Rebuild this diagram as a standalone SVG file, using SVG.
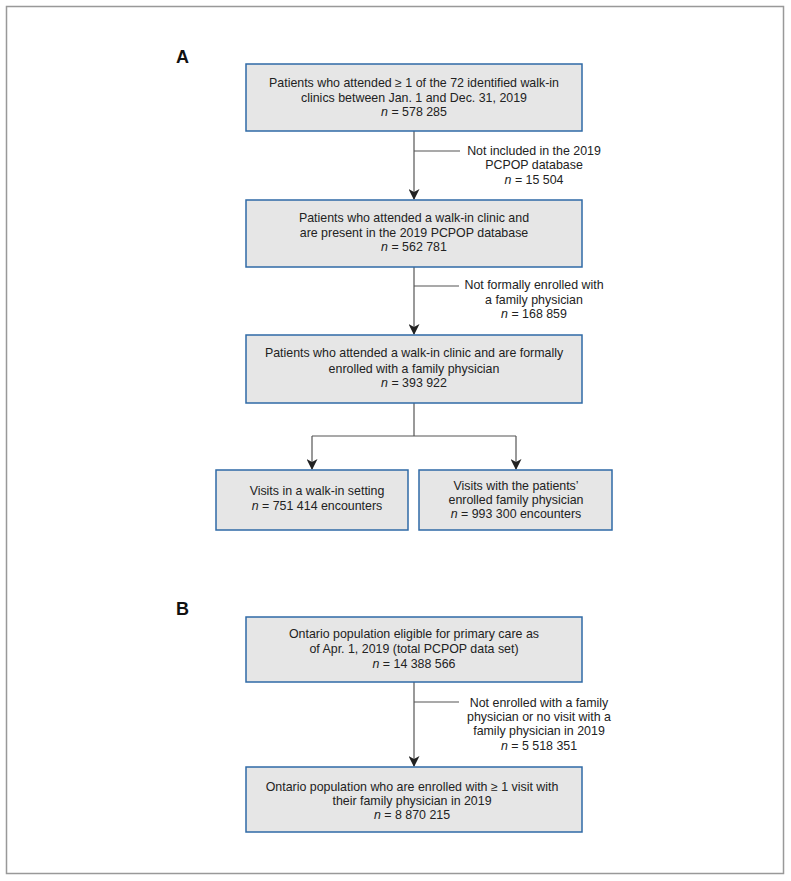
<svg xmlns="http://www.w3.org/2000/svg" width="791" height="881" viewBox="0 0 791 881">
<defs>
<style>
.box{fill:#e6e6e6;stroke:#2f6aa6;stroke-width:1.5}
.t{font-family:"Liberation Sans",Arial,sans-serif;font-size:12.4px;fill:#222;text-anchor:middle}
.lbl{font-family:"Liberation Sans",Arial,sans-serif;font-size:18px;font-weight:bold;fill:#111}
.ln{stroke:#555;stroke-width:1.2;fill:none}
.i{font-style:italic}
</style>
<marker id="ah" markerWidth="11" markerHeight="11" refX="10" refY="5.5" orient="auto" markerUnits="userSpaceOnUse">
<path d="M0,0 L11,5.5 L0,11 L3,5.5 Z" fill="#222"/>
</marker>
</defs>
<rect width="791" height="881" fill="#fff"/>
<rect x="6.5" y="6.5" width="777" height="867" fill="none" stroke="#999" stroke-width="1.5"/>
<text class="lbl" x="176" y="63">A</text>
<text class="lbl" x="176" y="615">B</text>
<g id="connectors">
<line class="ln" x1="414" y1="131" x2="414" y2="199" marker-end="url(#ah)"/>
<line class="ln" x1="414" y1="151" x2="460" y2="151"/>
<line class="ln" x1="414" y1="267" x2="414" y2="334" marker-end="url(#ah)"/>
<line class="ln" x1="414" y1="286" x2="459" y2="286"/>
<polyline class="ln" points="414,403 414,436"/>
<polyline class="ln" points="312,436 516,436"/>
<line class="ln" x1="312" y1="436" x2="312" y2="469" marker-end="url(#ah)"/>
<line class="ln" x1="516" y1="436" x2="516" y2="469" marker-end="url(#ah)"/>
<line class="ln" x1="414" y1="682" x2="414" y2="766" marker-end="url(#ah)"/>
<line class="ln" x1="414" y1="702" x2="459" y2="702"/>
</g>
<g id="lbl1">
<text class="t" x="534" y="155">Not included in the 2019</text>
<text class="t" x="534" y="169">PCPOP database</text>
<text class="t" x="534" y="184"><tspan class="i">n</tspan> = 15 504</text>
</g>
<g id="lbl2">
<text class="t" x="534" y="289">Not formally enrolled with</text>
<text class="t" x="534" y="304">a family physician</text>
<text class="t" x="534" y="318"><tspan class="i">n</tspan> = 168 859</text>
</g>
<g id="lbl3">
<text class="t" x="539" y="707">Not enrolled with a family</text>
<text class="t" x="539" y="721">physician or no visit with a</text>
<text class="t" x="539" y="735">family physician in 2019</text>
<text class="t" x="539" y="750"><tspan class="i">n</tspan> = 5 518 351</text>
</g>
<g id="n1">
<rect class="box" x="246" y="64" width="336" height="67"/>
<text class="t" x="414" y="87">Patients who attended ≥ 1 of the 72 identified walk-in</text>
<text class="t" x="414" y="102">clinics between Jan. 1 and Dec. 31, 2019</text>
<text class="t" x="414" y="116"><tspan class="i">n</tspan> = 578 285</text>
</g>
<g id="n2">
<rect class="box" x="246" y="200" width="336" height="67"/>
<text class="t" x="414" y="222">Patients who attended a walk-in clinic and</text>
<text class="t" x="414" y="237">are present in the 2019 PCPOP database</text>
<text class="t" x="414" y="251"><tspan class="i">n</tspan> = 562 781</text>
</g>
<g id="n3">
<rect class="box" x="246" y="335" width="336" height="68"/>
<text class="t" x="414" y="357">Patients who attended a walk-in clinic and are formally</text>
<text class="t" x="414" y="373">enrolled with a family physician</text>
<text class="t" x="414" y="387"><tspan class="i">n</tspan> = 393 922</text>
</g>
<g id="n4">
<rect class="box" x="216" y="470" width="192" height="60"/>
<text class="t" x="317" y="495">Visits in a walk-in setting</text>
<text class="t" x="317" y="510"><tspan class="i">n</tspan> = 751 414 encounters</text>
</g>
<g id="n5">
<rect class="box" x="419" y="470" width="193" height="60"/>
<text class="t" x="516" y="490">Visits with the patients’</text>
<text class="t" x="516" y="504">enrolled family physician</text>
<text class="t" x="516" y="518"><tspan class="i">n</tspan> = 993 300 encounters</text>
</g>
<g id="n6">
<rect class="box" x="246" y="617" width="336" height="65"/>
<text class="t" x="414" y="638">Ontario population eligible for primary care as</text>
<text class="t" x="414" y="653">of Apr. 1, 2019 (total PCPOP data set)</text>
<text class="t" x="414" y="668"><tspan class="i">n</tspan> = 14 388 566</text>
</g>
<g id="n7">
<rect class="box" x="246" y="767" width="336" height="65"/>
<text class="t" x="412" y="791">Ontario population who are enrolled with ≥ 1 visit with</text>
<text class="t" x="412" y="805">their family physician in 2019</text>
<text class="t" x="412" y="819"><tspan class="i">n</tspan> = 8 870 215</text>
</g>
</svg>
